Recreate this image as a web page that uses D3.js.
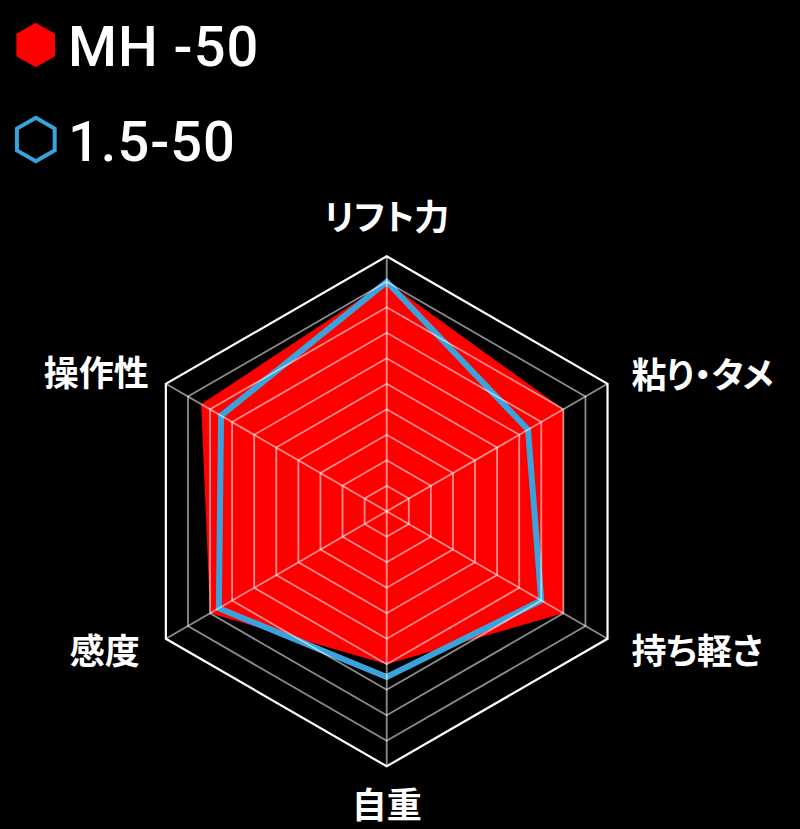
<!DOCTYPE html>
<html>
  <head>
    <meta charset="utf-8">
    <title>radar</title>
    <style>
      html, body { margin: 0; padding: 0; background: #000; }
      svg { display: block; }
    </style>
  </head>
  <body>
    <script src="https://cdn.jsdelivr.net/npm/d3@7"></script>
    <script>
      // axes, clockwise from the top
      var axes = ["リフト力", "粘り・タメ", "持ち軽さ", "自重", "感度", "操作性"];
      var seriesNames = ["MH -50", "1.5-50"];
      var mh50 = [9, 8, 8, 6, 8, 8.4];
      var s1550 = [9, 6.4, 7, 6.5, 7.6, 7.5];
      var levels = [1, 2, 3, 4, 5, 6, 7, 8, 9, 10];
      var maxValue = 10;

      var width = 800, height = 829;
      var cx = 386.7, cy = 511.3, radius = 255;
      var red = "#ff0000", blue = "#3aa3dc";

      var svg = d3.select("body").append("svg")
        .attr("width", width)
        .attr("height", height)
        .style("background", "#000");

      var r = d3.scaleLinear().domain([0, maxValue]).range([0, radius]);
      var angle = d3.scalePoint().domain(d3.range(axes.length + 1)).range([0, 2 * Math.PI]);

      var radial = d3.lineRadial()
        .angle(function(d, i) { return angle(i); })
        .radius(function(d) { return r(d); })
        .curve(d3.curveLinearClosed);

      var g = svg.append("g").attr("transform", "translate(" + cx + "," + cy + ")");

      // MH -50 filled area
      g.append("path")
        .attr("d", radial(mh50))
        .style("fill", red);

      // 1.5-50 outline
      g.append("path")
        .attr("d", radial(s1550))
        .style("fill", "none")
        .style("stroke", blue)
        .style("stroke-width", 6)
        .style("stroke-linejoin", "miter");

      // grid rings on top
      g.append("g").selectAll("path")
        .data(levels)
        .enter()
        .append("path")
        .attr("d", function(l) { return radial(axes.map(function() { return l; })); })
        .style("fill", "none")
        .style("stroke", function(l) { return l === maxValue ? "#fff" : "rgba(255,255,255,0.55)"; })
        .style("stroke-width", function(l) { return l === maxValue ? 2.2 : 1.8; });

      // spokes
      g.append("g").selectAll("line")
        .data(axes)
        .enter()
        .append("line")
        .attr("x1", 0).attr("y1", 0)
        .attr("x2", function(d, i) { return r(maxValue) * Math.sin(angle(i)); })
        .attr("y2", function(d, i) { return -r(maxValue) * Math.cos(angle(i)); })
        .style("stroke", "rgba(255,255,255,0.55)")
        .style("stroke-width", 1.8);

      // axis labels: anchor and offset from the outer vertex
      var labelPlace = [
        { anchor: "middle", dx: 0, dy: -42 },
        { anchor: "start", dx: 24, dy: -11 },
        { anchor: "start", dx: 24, dy: 10 },
        { anchor: "middle", dx: 0, dy: 36 },
        { anchor: "end", dx: -26, dy: 10 },
        { anchor: "end", dx: -17, dy: -13 }
      ];

      g.append("g").selectAll("text")
        .data(axes)
        .enter()
        .append("text")
        .attr("x", function(d, i) { return r(maxValue) * Math.sin(angle(i)) + labelPlace[i].dx; })
        .attr("y", function(d, i) { return -r(maxValue) * Math.cos(angle(i)) + labelPlace[i].dy; })
        .attr("text-anchor", function(d, i) { return labelPlace[i].anchor; })
        .attr("dominant-baseline", "central")
        .style("fill", "#fff")
        .style("font-family", "'Noto Sans CJK JP', sans-serif")
        .style("font-weight", "bold")
        .style("font-size", "35px")
        .style("font-feature-settings", "'palt'")
        .text(function(d) { return d; });

      // legend
      var hex = d3.lineRadial()
        .angle(function(d, i) { return i * Math.PI / 3; })
        .radius(function(d) { return d; })
        .curve(d3.curveLinearClosed);

      var legend = svg.append("g");
      var legendY = [45, 139.5];

      legend.append("path")
        .attr("transform", "translate(35.7," + legendY[0] + ")")
        .attr("d", hex([22.3, 22.3, 22.3, 22.3, 22.3, 22.3]))
        .style("fill", red);

      legend.append("path")
        .attr("transform", "translate(35.8," + legendY[1] + ")")
        .attr("d", hex([21.8, 21.8, 21.8, 21.8, 21.8, 21.8]))
        .style("fill", "none")
        .style("stroke", blue)
        .style("stroke-width", 4);

      legend.selectAll("text")
        .data(seriesNames)
        .enter()
        .append("text")
        .attr("x", 68)
        .attr("y", function(d, i) { return legendY[i] + 21; })
        .style("fill", "#fff")
        .style("font-family", "Roboto, sans-serif")
        .style("font-weight", 500)
        .style("font-size", "56px")
        .style("letter-spacing", "1px")
        .text(function(d) { return d; });
    </script>
  </body>
</html>
